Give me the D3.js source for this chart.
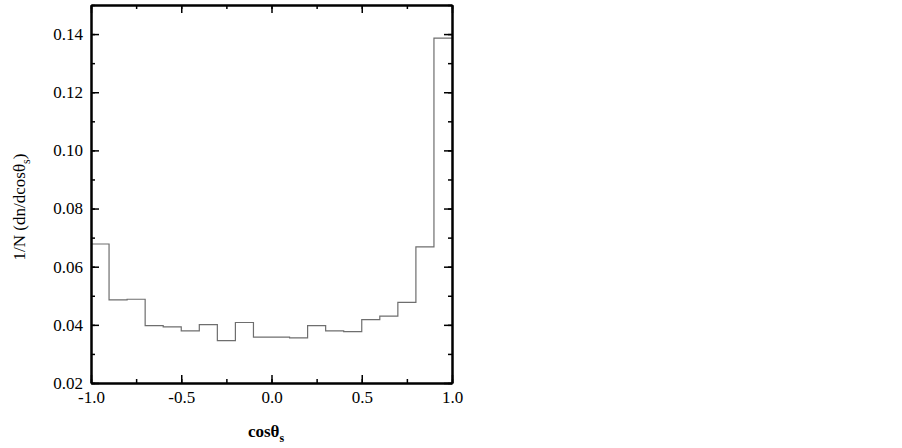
<!DOCTYPE html>
<html>
<head>
<meta charset="utf-8">
<script src="https://cdn.jsdelivr.net/npm/d3@7"></script>
<style>
  body { margin: 0; background: #fff; }
  text { font-family: "Liberation Serif", "Times New Roman", serif; }
</style>
</head>
<body>
<script>
// bin edges (cos theta_s) and normalised counts per bin
var binEdges = [-1.0, -0.9, -0.8, -0.7, -0.6, -0.5, -0.4, -0.3, -0.2, -0.1, 0.0,
                0.1, 0.2, 0.3, 0.4, 0.5, 0.6, 0.7, 0.8, 0.9, 1.0];
var counts = [0.0678, 0.0486, 0.0488, 0.0397, 0.0393, 0.0379, 0.0401, 0.0346, 0.0408, 0.0358,
              0.0358, 0.0355, 0.0397, 0.0379, 0.0377, 0.0418, 0.0430, 0.0477, 0.0668, 0.1386];
var xTicks = [-1.0, -0.5, 0.0, 0.5, 1.0];
var yTicks = [0.02, 0.04, 0.06, 0.08, 0.10, 0.12, 0.14];

var W = 902, H = 448;
var mLeft = 91, mRight = 452, mTop = 5, mBottom = 383;

var svg = d3.select("body").append("svg")
  .attr("width", W)
  .attr("height", H);

var x = d3.scaleLinear().domain([-1, 1]).range([mLeft, mRight]);
var y = d3.scaleLinear().domain([0.02, 0.15]).range([mBottom, mTop]);

var xMinor = d3.range(-1, 1.001, 0.25);
var yMinor = d3.range(0.02, 0.1501, 0.01);

// histogram as a step line
var pts = [];
counts.forEach((c, i) => {
  pts.push([binEdges[i], c]);
  pts.push([binEdges[i + 1], c]);
});
svg.append("path")
  .datum(pts)
  .attr("fill", "none")
  .attr("stroke", "#6e6e6e")
  .attr("stroke-width", 1.2)
  .attr("d", d3.line().x(d => x(d[0])).y(d => y(d[1])));

function styleAxis(g) {
  g.selectAll("path").attr("stroke", "#000").attr("stroke-width", 2);
  g.selectAll("line").attr("stroke", "#000").attr("stroke-width", 1.5);
  g.selectAll("text").attr("font-size", 17).attr("fill", "#000");
}

// minor ticks
svg.append("g").attr("transform", `translate(0,${mBottom})`)
  .call(d3.axisBottom(x).tickValues(xMinor).tickSize(-4).tickFormat("").tickSizeOuter(0))
  .call(styleAxis);
svg.append("g").attr("transform", `translate(0,${mTop})`)
  .call(d3.axisTop(x).tickValues(xMinor).tickSize(-4).tickFormat("").tickSizeOuter(0))
  .call(styleAxis);
svg.append("g").attr("transform", `translate(${mLeft},0)`)
  .call(d3.axisLeft(y).tickValues(yMinor).tickSize(-4).tickFormat("").tickSizeOuter(0))
  .call(styleAxis);
svg.append("g").attr("transform", `translate(${mRight},0)`)
  .call(d3.axisRight(y).tickValues(yMinor).tickSize(-4).tickFormat("").tickSizeOuter(0))
  .call(styleAxis);

// major ticks with labels
svg.append("g").attr("transform", `translate(0,${mBottom})`)
  .call(d3.axisBottom(x).tickValues(xTicks).tickSize(-8).tickPadding(8)
    .tickFormat(d => d3.format(".1f")(d).replace("−", "-")).tickSizeOuter(0))
  .call(styleAxis);
svg.append("g").attr("transform", `translate(0,${mTop})`)
  .call(d3.axisTop(x).tickValues(xTicks).tickSize(-8).tickFormat("").tickSizeOuter(0))
  .call(styleAxis);
svg.append("g").attr("transform", `translate(${mLeft},0)`)
  .call(d3.axisLeft(y).tickValues(yTicks).tickSize(-8).tickPadding(8)
    .tickFormat(d3.format(".2f")).tickSizeOuter(0))
  .call(styleAxis);
svg.append("g").attr("transform", `translate(${mRight},0)`)
  .call(d3.axisRight(y).tickValues(yTicks).tickSize(-8).tickFormat("").tickSizeOuter(0))
  .call(styleAxis);

// axis titles
var xt = svg.append("text")
  .attr("x", 266)
  .attr("y", 437)
  .attr("text-anchor", "middle")
  .attr("font-size", 17)
  .attr("font-weight", "bold");
xt.append("tspan").text("cosθ");
xt.append("tspan").attr("font-size", 12).attr("dy", 5).text("s");

var yt = svg.append("text")
  .attr("transform", "translate(25,207) rotate(-90)")
  .attr("text-anchor", "middle")
  .attr("font-size", 17);
yt.append("tspan").text("1/N (dn/dcosθ");
yt.append("tspan").attr("font-size", 12).attr("dy", 5).text("s");
yt.append("tspan").attr("dy", -5).text(")");
</script>
</body>
</html>
